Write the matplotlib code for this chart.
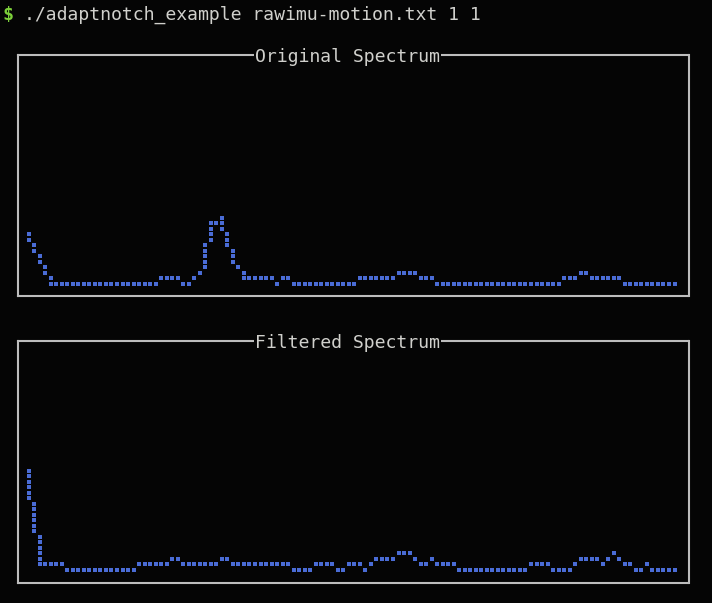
import matplotlib
matplotlib.use("Agg")
import matplotlib.pyplot as plt

# ---- data (braille dot levels per column) ----
command = "./adaptnotch_example rawimu-motion.txt 1 1"
prompt = "$"
titles = ["Original Spectrum", "Filtered Spectrum"]

orig_hi = [9, 7, 5, 3, 1,
           0, 0, 0, 0, 0, 0, 0, 0, 0, 0, 0, 0, 0, 0, 0, 0, 0, 0, 0,
           1, 1, 1, 1, 0, 0, 1, 2, 7, 11, 11, 12, 9, 6, 3, 2,
           1, 1, 1, 1, 1, 0, 1, 1,
           0, 0, 0, 0, 0, 0, 0, 0, 0, 0, 0, 0,
           1, 1, 1, 1, 1, 1, 1, 2, 2, 2, 2, 1, 1, 1,
           0, 0, 0, 0, 0, 0, 0, 0, 0, 0, 0, 0, 0, 0, 0, 0, 0, 0, 0, 0, 0, 0, 0,
           1, 1, 1, 2, 2, 1, 1, 1, 1, 1, 1,
           0, 0, 0, 0, 0, 0, 0, 0, 0, 0]
orig_lo = [8, 6, 4, 2, 0,
           0, 0, 0, 0, 0, 0, 0, 0, 0, 0, 0, 0, 0, 0, 0, 0, 0, 0, 0,
           1, 1, 1, 1, 0, 0, 1, 2, 3, 8, 11, 10, 7, 4, 3, 1,
           1, 1, 1, 1, 1, 0, 1, 1,
           0, 0, 0, 0, 0, 0, 0, 0, 0, 0, 0, 0,
           1, 1, 1, 1, 1, 1, 1, 2, 2, 2, 2, 1, 1, 1,
           0, 0, 0, 0, 0, 0, 0, 0, 0, 0, 0, 0, 0, 0, 0, 0, 0, 0, 0, 0, 0, 0, 0,
           1, 1, 1, 2, 2, 1, 1, 1, 1, 1, 1,
           0, 0, 0, 0, 0, 0, 0, 0, 0, 0]

filt_hi = [18, 12, 6, 1, 1, 1, 1,
           0, 0, 0, 0, 0, 0, 0, 0, 0, 0, 0, 0, 0,
           1, 1, 1, 1, 1, 1, 2, 2, 1, 1, 1, 1, 1, 1, 1, 2, 2,
           1, 1, 1, 1, 1, 1, 1, 1, 1, 1, 1,
           0, 0, 0, 0, 1, 1, 1, 1, 0, 0, 1, 1, 1, 0, 1,
           2, 2, 2, 2, 3, 3, 3, 2, 1, 1, 2, 1, 1, 1, 1,
           0, 0, 0, 0, 0, 0, 0, 0, 0, 0, 0, 0, 0,
           1, 1, 1, 1, 0, 0, 0, 0, 1, 2, 2, 2, 2, 1, 2, 3, 2, 1, 1, 0, 0, 1,
           0, 0, 0, 0, 0]
filt_lo = [13, 7, 1, 1, 1, 1, 1,
           0, 0, 0, 0, 0, 0, 0, 0, 0, 0, 0, 0, 0,
           1, 1, 1, 1, 1, 1, 2, 2, 1, 1, 1, 1, 1, 1, 1, 2, 2,
           1, 1, 1, 1, 1, 1, 1, 1, 1, 1, 1,
           0, 0, 0, 0, 1, 1, 1, 1, 0, 0, 1, 1, 1, 0, 1,
           2, 2, 2, 2, 3, 3, 3, 2, 1, 1, 2, 1, 1, 1, 1,
           0, 0, 0, 0, 0, 0, 0, 0, 0, 0, 0, 0, 0,
           1, 1, 1, 1, 0, 0, 0, 0, 1, 2, 2, 2, 2, 1, 2, 3, 2, 1, 1, 0, 0, 1,
           0, 0, 0, 0, 0]

# ---- styling ----
W, H = 712, 603
BG = "#050505"
FG = "#d0d0cc"
BORDER = "#bdbdbd"
DOT = "#4a6cd6"
GREEN = "#7ccf3a"
FONT = "DejaVu Sans Mono"
FS = 13.1

fig = plt.figure(figsize=(W / 100, H / 100), dpi=100, facecolor=BG)


def fx(px):
    return px / W


def fy(py):
    return 1 - py / H


# prompt line
fig.text(fx(2), fy(15), prompt, color=GREEN, fontsize=FS, family=FONT,
         fontweight="bold", ha="left", va="center")
fig.text(fx(24), fy(15), command, color=FG, fontsize=FS, family=FONT,
         ha="left", va="center")

panels = [(titles[0], orig_lo, orig_hi, 55, 296.5),
          (titles[1], filt_lo, filt_hi, 341, 582.5)]

x0_px, dx_px = 28.67, 5.52
left_px, right_px = 18, 688.5

for title, lo, hi, top_px, bot_px in panels:
    ax = fig.add_axes([fx(left_px), fy(bot_px), (right_px - left_px) / W,
                       (bot_px - top_px) / H])
    ax.set_facecolor(BG)
    base_px = bot_px - 12.5
    ax.set_xlim((left_px - x0_px) / dx_px, (right_px - x0_px) / dx_px)
    ax.set_ylim((base_px - bot_px) / dx_px, (base_px - top_px) / dx_px)
    xs, ys = [], []
    for k in range(len(hi)):
        for lev in range(lo[k], hi[k] + 1):
            xs.append(k)
            ys.append(lev)
    ax.scatter(xs, ys, marker="s", s=10.5, c=DOT, linewidths=0)
    ax.set_xticks([])
    ax.set_yticks([])
    for sp in ax.spines.values():
        sp.set_color(BORDER)
        sp.set_linewidth(1.5)
    ax.annotate(title, xy=(0.492, 1.0), xycoords="axes fraction",
                xytext=(0, -1.6), textcoords="offset points", color=FG,
                fontsize=FS, family=FONT, ha="center", va="center",
                bbox=dict(facecolor=BG, edgecolor="none", pad=0.8))

fig.savefig("out.png", dpi=100, facecolor=BG)
